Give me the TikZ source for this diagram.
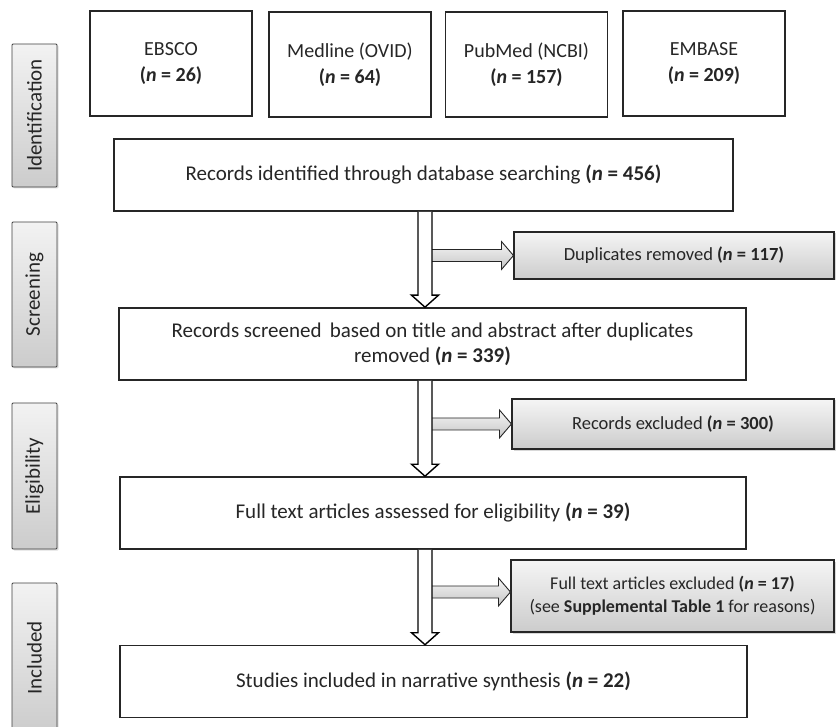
\documentclass[tikz,border=0pt]{standalone}
\usepackage{fontspec}
\setmainfont{Carlito}
\usetikzlibrary{calc,shadows}

\tikzset{
  dbbox/.style={draw=black!85, line width=1.6pt, minimum width=162pt, minimum height=105pt, align=center, text=black!85, font=\fontsize{20}{25.5}\selectfont},
  stagebox/.style={draw=black!85, line width=1.6pt, minimum height=72pt, align=center, text=black!85, font=\fontsize{21}{25}\selectfont},
  outbox/.style={draw=black!85, line width=1.1pt, align=center, text=black!85, top color=gray!8, bottom color=gray!40, drop shadow={shadow xshift=1.5pt, shadow yshift=-1.5pt, opacity=0.3}, font=\fontsize{18.5}{23}\selectfont},
  phasebox/.style={draw=black!75, line width=0.9pt, rounded corners=1pt, minimum width=45pt, text=black!85, top color=gray!10, bottom color=gray!40, drop shadow={shadow xshift=1.5pt, shadow yshift=-1.5pt, opacity=0.25}, font=\fontsize{21}{24}\selectfont},
  fatdown/.style={to path={let \p1=(\tikztostart), \p2=(\tikztotarget) in
      (\x1-7pt,\y1) -- (\x1-7pt,\y2+12pt) -- (\x1-13.5pt,\y2+12pt) -- (\x1,\y2)
      -- (\x1+13.5pt,\y2+12pt) -- (\x1+7pt,\y2+12pt) -- (\x1+7pt,\y1)}},
  fatright/.style={to path={let \p1=(\tikztostart), \p2=(\tikztotarget) in
      (\x1+7pt,\y1+6pt) -- (\x2-12pt,\y1+6pt) -- (\x2-12pt,\y1+14pt) -- (\x2,\y1)
      -- (\x2-12pt,\y1-14pt) -- (\x2-12pt,\y1-6pt) -- (\x1+7pt,\y1-6pt)}}
}

\newcommand{\nval}[1]{\textbf{(\textit{n} = #1)}}

\begin{document}
\begin{tikzpicture}[x=1pt, y=-1pt]
		%%%%% START %%%%%
		\useasboundingbox[fill=white] (0,0) rectangle (836,727);
		
		% phases
		\node[phasebox, minimum height=143pt] (ident) at (34.5,115.5) {\rotatebox{90}{Identification}};
		\node[phasebox, minimum height=145pt] (scr) at (34.5,294.5) {\rotatebox{90}{Screening}};
		\node[phasebox, minimum height=146pt] (elig) at (34.5,476) {\rotatebox{90}{Eligibility}};
		\node[phasebox, minimum height=150pt] (incl) at (34.5,658) {\rotatebox{90}{Included}};
		
		% databases
		\node[dbbox] (ebsco) at (171,63.5) {EBSCO\\\nval{26}};
		\node[dbbox] (medline) at (350,64.5) {Medline (OVID)\\\nval{64}};
		\node[dbbox] (pubmed) at (526.5,64.5) {PubMed (NCBI)\\\nval{157}};
		\node[dbbox] (embase) at (704,63.5) {EMBASE\\\nval{209}};
		
		% main column
		\node[stagebox, minimum width=619pt] (recs) at (423.5,175) {Records identified through database searching \nval{456}};
		\node[stagebox, minimum width=627pt] (screen) at (432.5,344) {Records screened\, based on title and abstract after duplicates\\removed \nval{339}};
		\node[stagebox, minimum width=626pt] (full) at (433,513) {Full text articles assessed for eligibility \nval{39}};
		\node[stagebox, minimum width=627pt] (studies) at (433.5,681.5) {Studies included in narrative synthesis \nval{22}};
		
		% excluded
		\node[outbox, minimum width=320pt, minimum height=47pt] (dup) at (674,255.5) {Duplicates removed \nval{117}};
		\node[outbox, minimum width=322pt, minimum height=50pt] (excl) at (673,424) {Records excluded \nval{300}};
		\node[outbox, minimum width=323pt, minimum height=72pt, font=\fontsize{18}{23}\selectfont] (fexcl) at (672.5,596) {Full text articles excluded \nval{17}\\(see \textbf{Supplemental Table 1} for reasons)};
		
		\coordinate (col) at (425,0);
		
		% arrows
		\draw[fatright, draw=black!85, line width=0.9pt, top color=gray!8, bottom color=gray!45] (col |- dup.west) to (dup.west);
		\draw[fatright, draw=black!85, line width=0.9pt, top color=gray!8, bottom color=gray!45] (col |- excl.west) to (excl.west);
		\draw[fatright, draw=black!85, line width=0.9pt, top color=gray!8, bottom color=gray!45] ($(col |- fexcl.west)+(0,-4)$) to ($(fexcl.west)+(0,-4)$);
		
		\draw[fatdown, draw=black, line width=1.4pt, fill=white] (col |- recs.south) to (col |- screen.north);
		\draw[fatdown, draw=black, line width=1.4pt, fill=white] (col |- screen.south) to (col |- full.north);
		\draw[fatdown, draw=black, line width=1.4pt, fill=white] (col |- full.south) to (col |- studies.north);
		
		%%%%% END %%%%%
	\end{tikzpicture}
\end{document}
